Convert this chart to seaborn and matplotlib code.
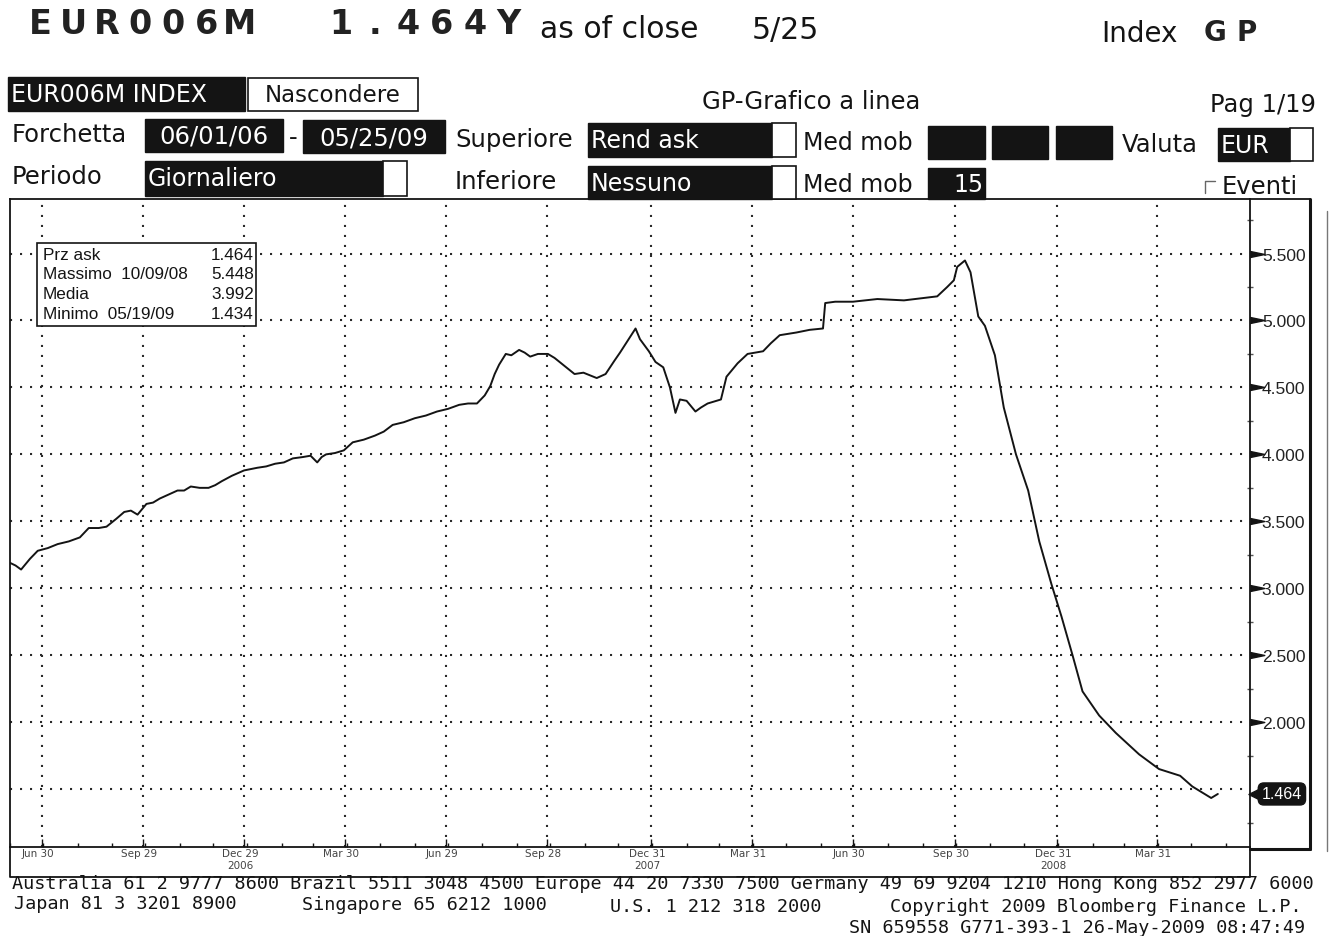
import pandas as pd
import seaborn as sns
import matplotlib.pyplot as plt
import matplotlib.dates as mdates
from matplotlib.patches import Rectangle
from matplotlib.lines import Line2D
from matplotlib.transforms import ScaledTranslation, blended_transform_factory

# EUR006M ask yield
dates = [
    "2006-06-01", "2006-06-06", "2006-06-11", "2006-06-19", "2006-06-26", "2006-07-05",
    "2006-07-14", "2006-07-24", "2006-08-03", "2006-08-11", "2006-08-20", "2006-08-27",
    "2006-09-05", "2006-09-12", "2006-09-18", "2006-09-24", "2006-10-02", "2006-10-08",
    "2006-10-14", "2006-10-22", "2006-10-30", "2006-11-05", "2006-11-11", "2006-11-19",
    "2006-11-27", "2006-12-03", "2006-12-09", "2006-12-18", "2006-12-29", "2007-01-10",
    "2007-01-18", "2007-01-26", "2007-02-03", "2007-02-11", "2007-02-20", "2007-02-27",
    "2007-03-05", "2007-03-09", "2007-03-13", "2007-03-21", "2007-03-29", "2007-04-06",
    "2007-04-16", "2007-04-26", "2007-05-04", "2007-05-12", "2007-05-22", "2007-06-01",
    "2007-06-11", "2007-06-21", "2007-07-01", "2007-07-11", "2007-07-19", "2007-07-27",
    "2007-08-03", "2007-08-08", "2007-08-12", "2007-08-16", "2007-08-22", "2007-08-27",
    "2007-09-03", "2007-09-08", "2007-09-13", "2007-09-20", "2007-09-29", "2007-10-05",
    "2007-10-11", "2007-10-17", "2007-10-23", "2007-10-31", "2007-11-06", "2007-11-12",
    "2007-11-20", "2007-11-28", "2007-12-03", "2007-12-10", "2007-12-17", "2007-12-21",
    "2007-12-29", "2008-01-04", "2008-01-11", "2008-01-17", "2008-01-22", "2008-01-26",
    "2008-02-01", "2008-02-09", "2008-02-14", "2008-02-20", "2008-03-03", "2008-03-08",
    "2008-03-18", "2008-03-27", "2008-04-10", "2008-04-17", "2008-04-25", "2008-05-10",
    "2008-05-22", "2008-06-03", "2008-06-05", "2008-06-14", "2008-06-30", "2008-07-22",
    "2008-08-15", "2008-09-14", "2008-09-23", "2008-09-29", "2008-10-02", "2008-10-09",
    "2008-10-14", "2008-10-21", "2008-10-27", "2008-11-05", "2008-11-13", "2008-11-24",
    "2008-12-05", "2008-12-15", "2008-12-26", "2009-01-04", "2009-01-14", "2009-01-23",
    "2009-02-07", "2009-02-22", "2009-03-15", "2009-04-02", "2009-04-21", "2009-05-02",
    "2009-05-19", "2009-05-25",
]
rates = [
    3.19, 3.17, 3.14, 3.22, 3.28, 3.30,
    3.33, 3.35, 3.38, 3.45, 3.45, 3.46,
    3.52, 3.57, 3.58, 3.55, 3.63, 3.64,
    3.67, 3.70, 3.73, 3.73, 3.76, 3.75,
    3.75, 3.77, 3.80, 3.84, 3.88, 3.90,
    3.91, 3.93, 3.94, 3.97, 3.98, 3.99,
    3.94, 3.98, 4.00, 4.01, 4.03, 4.09,
    4.11, 4.14, 4.17, 4.22, 4.24, 4.27,
    4.29, 4.32, 4.34, 4.37, 4.38, 4.38,
    4.44, 4.51, 4.60, 4.67, 4.75, 4.74,
    4.78, 4.76, 4.73, 4.75, 4.75, 4.72,
    4.68, 4.64, 4.60, 4.61, 4.59, 4.57,
    4.60, 4.70, 4.76, 4.85, 4.94, 4.86,
    4.77, 4.69, 4.65, 4.50, 4.31, 4.41,
    4.40, 4.32, 4.35, 4.38, 4.41, 4.58,
    4.68, 4.75, 4.77, 4.83, 4.89, 4.91,
    4.93, 4.94, 5.13, 5.14, 5.14, 5.16,
    5.15, 5.18, 5.25, 5.30, 5.40, 5.448,
    5.36, 5.03, 4.96, 4.74, 4.35, 4.00,
    3.73, 3.35, 3.03, 2.79, 2.50, 2.23,
    2.05, 1.92, 1.76, 1.65, 1.60, 1.52,
    1.434, 1.464,
]

tick_dates = ["2006-06-30", "2006-09-29", "2006-12-29", "2007-03-30", "2007-06-29",
              "2007-09-28", "2007-12-31", "2008-03-31", "2008-06-30", "2008-09-30",
              "2008-12-31", "2009-03-31"]
tick_labels = ["Jun 30", "Sep 29", "Dec 29\n2006", "Mar 30", "Jun 29", "Sep 28",
               "Dec 31\n2007", "Mar 31", "Jun 30", "Sep 30", "Dec 31\n2008", "Mar 31"]
y_ticks = [1.5, 2.0, 2.5, 3.0, 3.5, 4.0, 4.5, 5.0, 5.5]
y_labels = ["", "2.000", "2.500", "3.000", "3.500", "4.000", "4.500", "5.000", "5.500"]
y_minor = [1.25, 1.75, 2.25, 2.75, 3.25, 3.75, 4.25, 4.75, 5.25, 5.75]

legend_names = ["Prz ask", "Massimo  10/09/08", "Media", "Minimo  05/19/09"]
legend_values = ["1.464", "5.448", "3.992", "1.434"]
last_value = 1.464

W, H = 1340, 937
sns.set_theme(style="white")
plt.rcParams["font.family"] = ["Liberation Sans", "DejaVu Sans"]
NARROW = ["Liberation Sans Narrow", "DejaVu Sans Condensed", "DejaVu Sans"]
MONO = ["DejaVu Sans Mono"]
INK = "#141414"

df = pd.DataFrame({"date": pd.to_datetime(dates), "rate": rates})

fig = plt.figure(figsize=(W / 100, H / 100), dpi=100)
fig.patch.set_facecolor("white")

# main chart area, pixel box 10..1250 x 200..848
ax = fig.add_axes([10 / W, 1 - 848 / H, 1240 / W, 648 / H], zorder=1)
sns.lineplot(data=df, x="date", y="rate", ax=ax, color=INK, linewidth=1.4)
ax.set_xlim(pd.Timestamp("2006-06-01"), pd.Timestamp("2009-06-23"))
ax.set_ylim(1.068, 5.907)
ax.set_xlabel("")
ax.set_ylabel("")

ax.set_xticks(pd.to_datetime(tick_dates))
ax.set_xticklabels(tick_labels, fontsize=7.5, family="DejaVu Sans", color="#444",
                   linespacing=1.35, va="top")
ax.xaxis.set_minor_locator(mdates.MonthLocator())
ax.tick_params(axis="x", which="major", direction="in", length=6, width=1, pad=0.5,
               color=INK, bottom=True)
ax.tick_params(axis="x", which="minor", direction="in", length=3, width=1,
               color=INK, bottom=True)
for lbl in ax.get_xticklabels():
    lbl.set_transform(lbl.get_transform() + ScaledTranslation(-0.04, 0, fig.dpi_scale_trans))

ax.yaxis.tick_right()
ax.set_yticks(y_ticks)
ax.set_yticklabels(y_labels)
ax.set_yticks(y_minor, minor=True)
ax.tick_params(axis="y", which="major", length=0, pad=8.5, labelsize=12.5,
               labelcolor="#222", right=True, left=False)
ax.tick_params(axis="y", which="minor", direction="inout", length=5, width=1,
               color="#555", right=True, left=False)

ax.grid(True, which="major", color="#2a2a2a", linestyle=(0, (1, 3.8)), linewidth=1.5)
for sp in ax.spines.values():
    sp.set_color(INK)
    sp.set_linewidth(1.3)

# arrow heads pointing at the right-hand labels, and the last-price tag
tr = blended_transform_factory(ax.transAxes, ax.transData)
ax.scatter([1.0055] * (len(y_ticks) - 1), y_ticks[1:], transform=tr, clip_on=False,
           marker=[(-1, -0.42), (1, 0), (-1, 0.42)], s=110, color=INK, zorder=5)
ax.scatter([1.004], [last_value], transform=tr, clip_on=False,
           marker=[(1, -1), (-1, 0), (1, 1)], s=90, color=INK, zorder=5)
ax.text(1.0095, last_value, f"{last_value:.3f}", transform=tr, fontsize=11.5,
        color="white", ha="left", va="center", zorder=6,
        bbox=dict(boxstyle="round,pad=0.22,rounding_size=0.35", fc=INK, ec=INK))

# overlay for the Bloomberg screen furniture (pixel coordinates)
fg = fig.add_axes([0, 0, 1, 1], zorder=3)
fg.set_xlim(0, W)
fg.set_ylim(H, 0)
fg.axis("off")
fg.patch.set_alpha(0)


def box(x0, y0, x1, y1, fc=INK, ec=INK, lw=1.0):
    fg.add_patch(Rectangle((x0, y0), x1 - x0, y1 - y0, fc=fc, ec=ec, lw=lw))


def label(x, y, s, size=17.5, ha="left", color=INK, family=NARROW, weight="normal"):
    fg.text(x, y, s, fontsize=size, ha=ha, va="center", color=color,
            family=family, fontweight=weight)


def spaced(x, y, s, step, size):
    for i, ch in enumerate(s):
        fg.text(x + step * (i + 0.5), y, ch, fontsize=size, ha="center", va="center",
                color="#222", family="DejaVu Sans", fontweight="bold")


def line(xs, ys, lw=1.3, color=INK):
    fg.add_line(Line2D(xs, ys, lw=lw, color=color))


# title row
spaced(23.3, 24, "EUR006M", 33.3, 24)
spaced(324.3, 24, "1.464Y", 33.5, 24)
label(540, 30, "as of close", 21.5)
label(752, 30, "5/25", 21.5)
label(1101, 34, "Index", 20)
spaced(1199, 33, "GP", 32, 20)

# second row
box(8, 78, 245, 112)
label(11, 95, "EUR006M INDEX", 17, color="white")
box(248, 79, 418, 112, fc="white", lw=1.2)
label(333, 95, "Nascondere", 16.5, ha="center")
label(811, 102, "GP-Grafico a linea", 17.5, ha="center")
label(1210, 105, "Pag 1/19", 17.5)

# third row
label(12, 135, "Forchetta")
box(145, 120, 283, 153)
label(214, 137, "06/01/06", 17.5, ha="center", color="white")
label(293, 138, "-", ha="center")
box(303, 121, 445, 154)
label(374, 138, "05/25/09", 17.5, ha="center", color="white")
label(455, 140, "Superiore")
box(588, 124, 772, 158)
box(772, 124, 796, 158, fc="white", lw=1.2)
label(591, 141, "Rend ask", 17, color="white")
label(803, 143, "Med mob", 17)
box(928, 127, 985, 160)
box(992, 127, 1048, 160)
box(1056, 127, 1112, 160)
label(1122, 145, "Valuta")
box(1218, 129, 1290, 162)
box(1290, 129, 1313, 162, fc="white", lw=1.2)
label(1221, 146, "EUR", 17, color="white")

# fourth row
label(12, 177, "Periodo")
box(145, 162, 383, 197)
box(383, 162, 407, 197, fc="white", lw=1.2)
label(148, 179, "Giornaliero", 17, color="white")
label(455, 182, "Inferiore")
box(588, 167, 772, 200)
box(772, 167, 796, 200, fc="white", lw=1.2)
label(591, 184, "Nessuno", 17, color="white")
label(803, 185, "Med mob", 17)
box(928, 169, 985, 200)
label(968, 185, "15", 17, ha="center", color="white")
line([1205, 1205, 1215], [194, 182, 182], lw=1.0, color="#666")
label(1222, 187, "Eventi")

# frame around the chart and the date band
line([1250, 1310], [200, 200])
line([1310, 1310], [200, 850], lw=2.2)
line([1250, 1310], [850, 850], lw=2.2)
line([1327, 1327], [212, 852], lw=1.0, color="#777")
line([10, 10, 1250, 1250], [848, 878, 878, 848], lw=1.3)

# legend box
box(37, 244, 256, 327, fc="white", lw=1.2)
for i, (name, val) in enumerate(zip(legend_names, legend_values)):
    yy = 255 + i * 19.7
    label(43, yy, name, 12.3, family=["Liberation Sans", "DejaVu Sans"])
    label(254, yy, val, 12.3, ha="right", family=["Liberation Sans", "DejaVu Sans"])

# footer
label(12, 884, "Australia 61 2 9777 8600 Brazil 5511 3048 4500 Europe 44 20 7330 7500 "
      "Germany 49 69 9204 1210 Hong Kong 852 2977 6000", 13.3, family=MONO)
label(14, 904, "Japan 81 3 3201 8900", 13.3, family=MONO)
label(302, 905, "Singapore 65 6212 1000", 13.3, family=MONO)
label(610, 907, "U.S. 1 212 318 2000", 13.3, family=MONO)
label(1302, 907, "Copyright 2009 Bloomberg Finance L.P.", 13.3, ha="right", family=MONO)
label(1305, 928, "SN 659558 G771-393-1 26-May-2009 08:47:49", 13.3, ha="right", family=MONO)

fig.savefig("out.png", dpi=100, facecolor="white")
